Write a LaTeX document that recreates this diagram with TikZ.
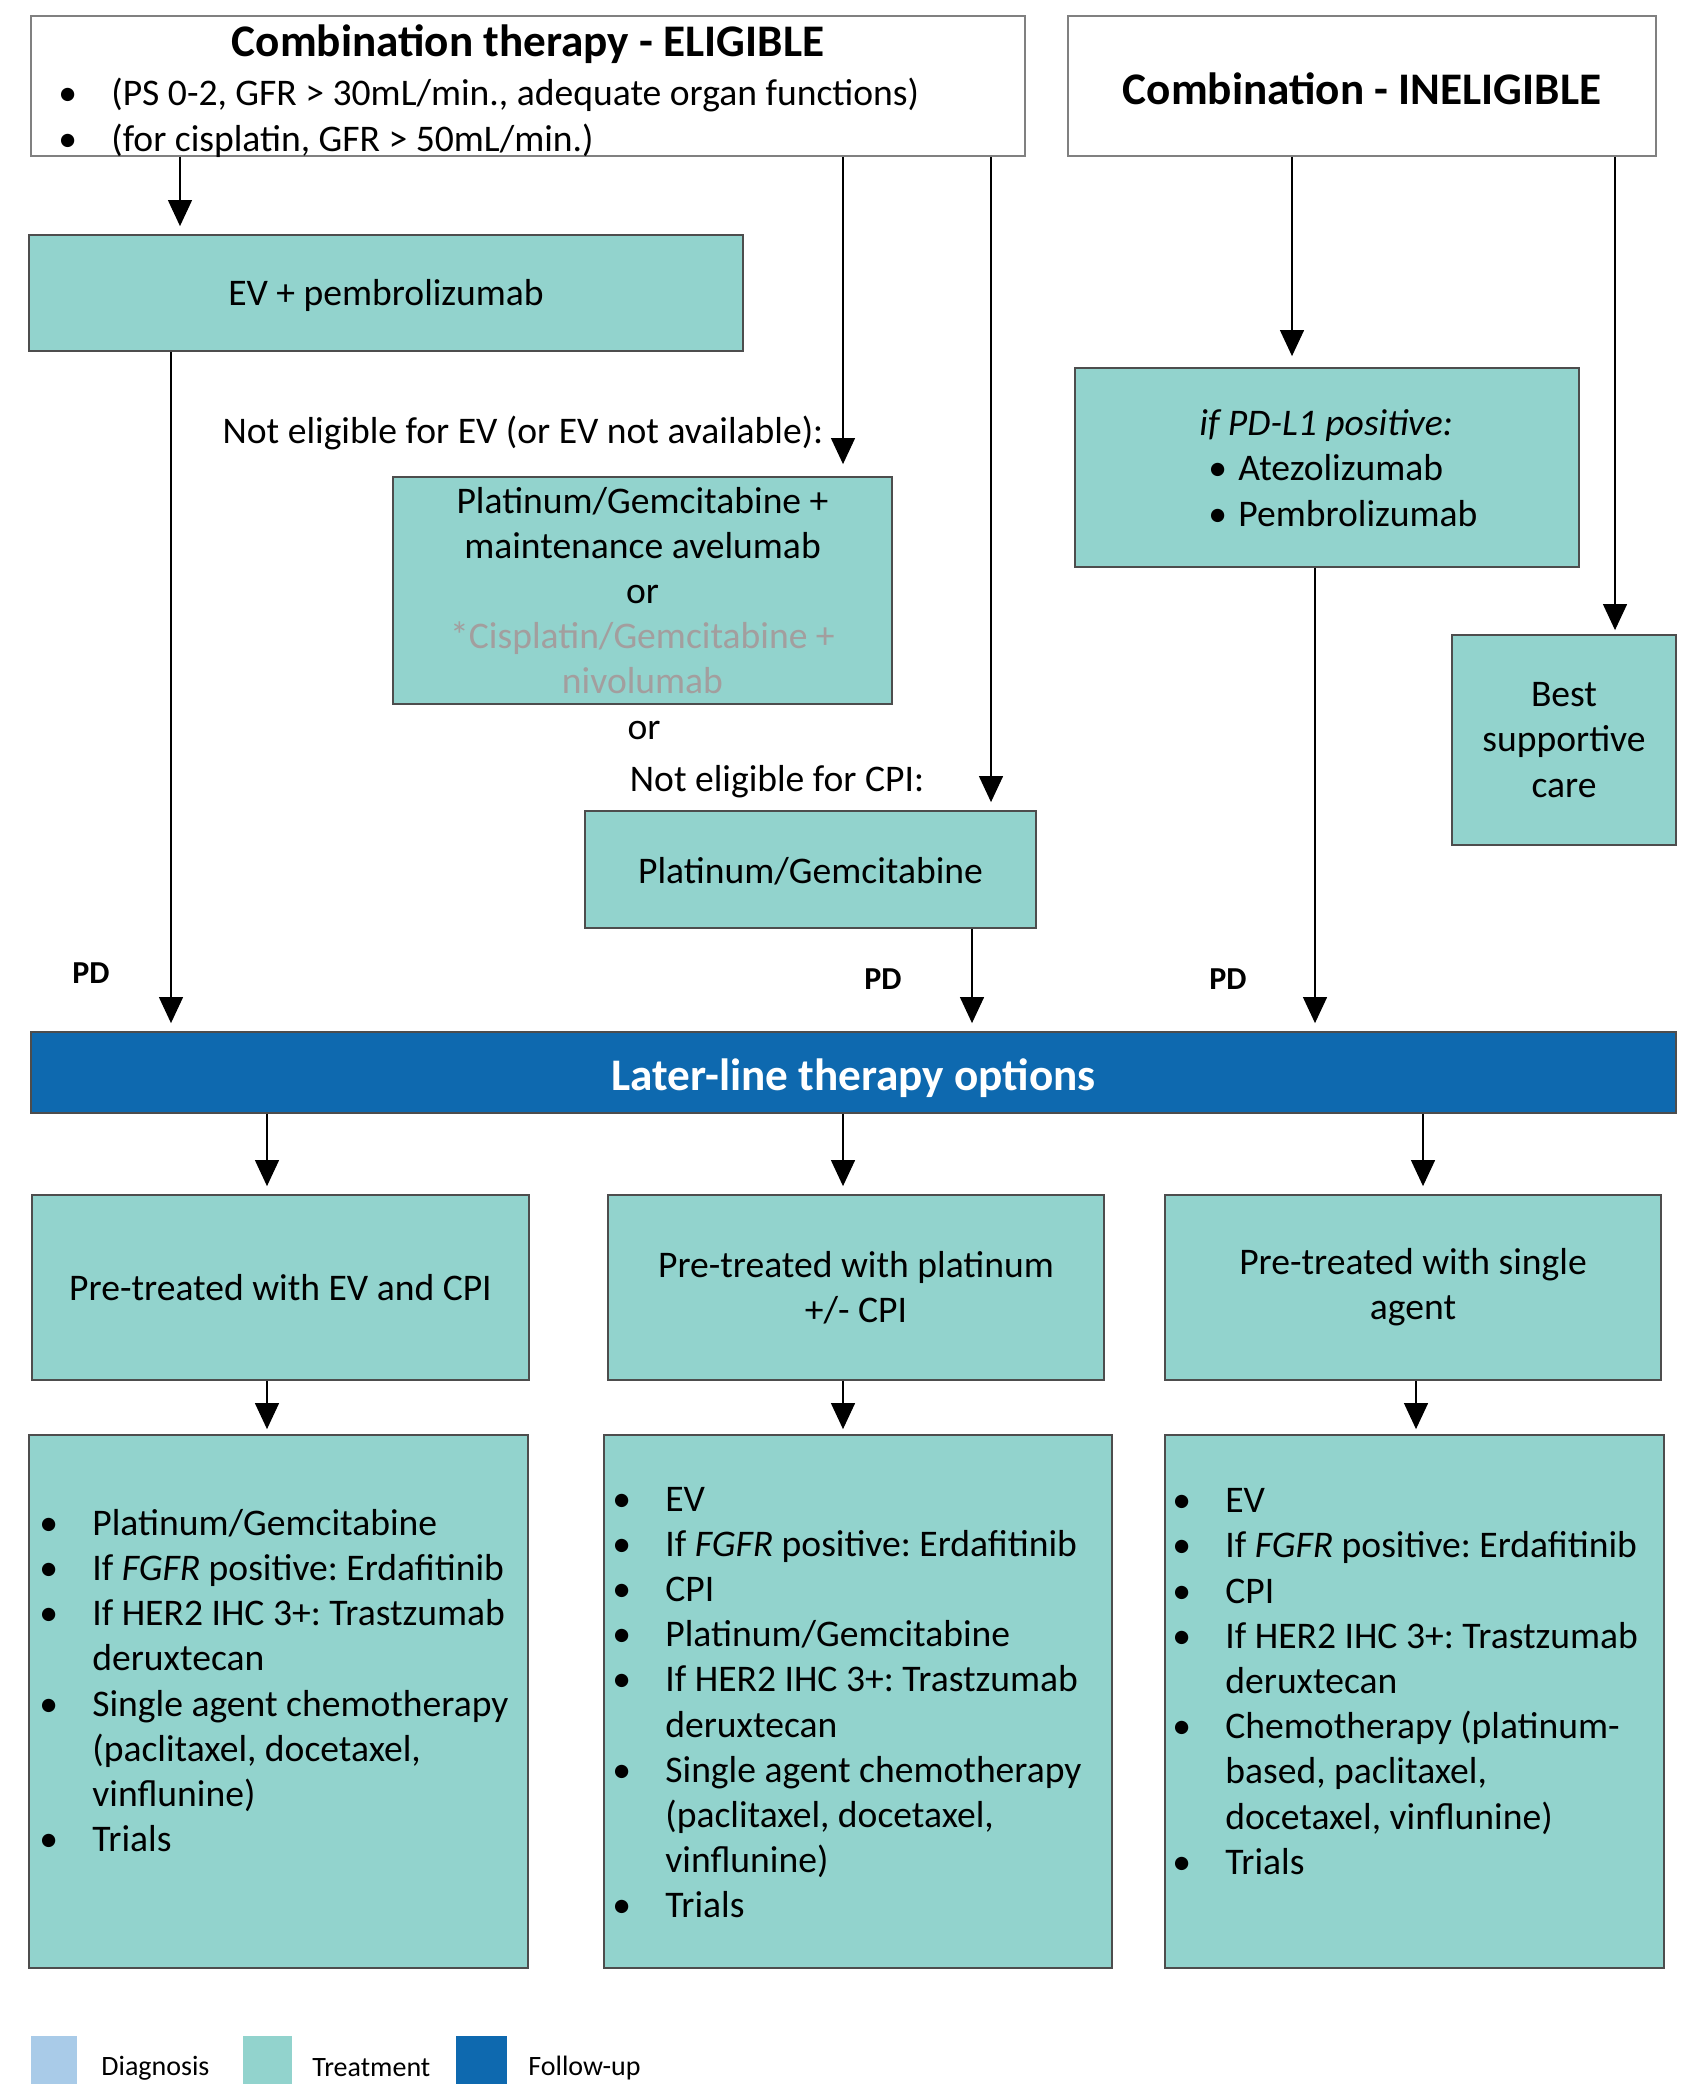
\documentclass[tikz,border=0pt]{standalone}
\usepackage{fontspec}
\setmainfont{Carlito}
\usetikzlibrary{arrows.meta,fit}
\definecolor{teal1}{HTML}{92D3CD}
\definecolor{fblue}{HTML}{0E69AF}
\definecolor{lblue}{HTML}{A9CBE8}
\definecolor{cgray}{HTML}{A39E9E}
\definecolor{bdr}{HTML}{4D4D4D}
\definecolor{wbdr}{HTML}{808080}
\frenchspacing
\newcommand\bitem[1]{\par\noindent\hangindent=26.5pt\hangafter=1\makebox[26.5pt][l]{\textbullet}#1}
\newcommand\bodyfont{\fontsize{18.8pt}{22.6pt}\selectfont}
\begin{document}
\begin{tikzpicture}[x=0.5pt,y=-0.5pt,
  tbox/.style={draw=bdr, line width=0.9pt, fill=teal1, inner sep=0pt},
  wbox/.style={draw=wbdr, line width=0.9pt, fill=white, inner sep=0pt},
  conn/.style={line width=0.6pt, -{Triangle[length=13pt,width=12pt]}, shorten >=4pt},
  plain/.style={inner sep=0pt, align=center, font=\bodyfont},
  lst/.style={inner sep=0pt, text width=300pt, align=flush left, anchor=west, font=\bodyfont},
  pd/.style={font=\fontsize{16pt}{19pt}\selectfont\bfseries, inner sep=0pt},
  ttl/.style={font=\fontsize{22.6pt}{27pt}\selectfont\bfseries, inner sep=0pt},
  leg/.style={font=\fontsize{14pt}{17pt}\selectfont, inner sep=0pt, anchor=west}
]
\fill[white] (0,0) rectangle (1704,2091);
\useasboundingbox (0,0) rectangle (1704,2091);

% top boxes
\node[wbox, fit={(31,16)(1025,156)}] (elig) {};
\node[ttl] (eligT) at (528,44) {Combination therapy - ELIGIBLE};
\node[lst, text width=480pt] (eligL) at (58,109) {\bitem{(PS 0-2, GFR > 30mL/min., adequate organ functions)}\bitem{(for cisplatin, GFR > 50mL/min.)}};
\node[wbox, fit={(1068,16)(1656,156)}] (inelig) {};
\node[ttl] (ineligT) at ([yshift=-1.5pt]inelig.center) {Combination - INELIGIBLE};

% eligible branch
\node[tbox, fit={(29,235)(743,351)}] (ev) {};
\node[plain] (evT) at ([yshift=-1pt]ev.center) {EV + pembrolizumab};
\node[plain] (ne1) at (523,433) {Not eligible for EV (or EV not available):};
\node[tbox, fit={(393,477)(892,704)}] (pgA) {};
\node[plain] (pgAT) at (pgA.center) {Platinum/Gemcitabine +\\maintenance avelumab\\or\\\textcolor{cgray}{*Cisplatin/Gemcitabine +}\\\textcolor{cgray}{nivolumab}};
\node[plain] (or1) at (644,730) {or};
\node[plain] (ne2) at (777,782) {Not eligible for CPI:};
\node[tbox, fit={(585,811)(1036,928)}] (pgB) {};
\node[plain] (pgBT) at ([yshift=-1pt]pgB.center) {Platinum/Gemcitabine};

% ineligible branch
\node[tbox, fit={(1075,368)(1579,567)}] (pdl1) {};
\node[plain, align=left, anchor=west] (pdl1T) at (1199,468) {\textit{if PD-L1 positive:}\\\hspace*{4.5pt}\makebox[15pt][l]{\textbullet}Atezolizumab\\\hspace*{4.5pt}\makebox[15pt][l]{\textbullet}Pembrolizumab};
\node[tbox, fit={(1452,635)(1676,845)}] (bsc) {};
\node[plain] (bscT) at (bsc.center) {Best\\supportive\\care};

% PD labels
\node[pd] (pd1) at (91,973) {PD};
\node[pd] (pd2) at (883,979) {PD};
\node[pd] (pd3) at (1228,979) {PD};

% later line
\node[fit={(31,1032)(1676,1113)}, fill=fblue, draw=bdr, line width=0.9pt, inner sep=0pt] (later) {};
\node[ttl, text=white] (laterT) at ([yshift=-3pt]later.center) {Later-line therapy options};

% middle row
\node[tbox, fit={(32,1195)(529,1380)}] (m1) {};
\node[plain] (m1T) at (m1.center) {Pre-treated with EV and CPI};
\node[tbox, fit={(608,1195)(1104,1380)}] (m2) {};
\node[plain] (m2T) at (m2.center) {Pre-treated with platinum\\+/- CPI};
\node[tbox, fit={(1165,1195)(1661,1380)}] (m3) {};
\node[plain] (m3T) at (m3.center) {Pre-treated with single\\agent};

% bottom row
\node[tbox, fit={(29,1435)(528,1968)}] (b1) {};
\node[tbox, fit={(604,1435)(1112,1968)}] (b2) {};
\node[tbox, fit={(1165,1435)(1664,1968)}] (b3) {};
\node[lst] (l1) at (39,1671) {\bitem{Platinum/Gemcitabine}\bitem{If \textit{FGFR} positive: Erdafitinib}\bitem{If HER2 IHC 3+: Trastzumab\newline deruxtecan}\bitem{Single agent chemotherapy\newline (paclitaxel, docetaxel,\newline vinflunine)}\bitem{Trials}};
\node[lst] (l2) at (612,1692) {\bitem{EV}\bitem{If \textit{FGFR} positive: Erdafitinib}\bitem{CPI}\bitem{Platinum/Gemcitabine}\bitem{If HER2 IHC 3+: Trastzumab\newline deruxtecan}\bitem{Single agent chemotherapy\newline (paclitaxel, docetaxel,\newline vinflunine)}\bitem{Trials}};
\node[lst] (l3) at (1172,1671) {\bitem{EV}\bitem{If \textit{FGFR} positive: Erdafitinib}\bitem{CPI}\bitem{If HER2 IHC 3+: Trastzumab\newline deruxtecan}\bitem{Chemotherapy (platinum-\newline based, paclitaxel,\newline docetaxel, vinflunine)}\bitem{Trials}};

% legend
\node[fill=lblue, fit={(31,2036)(77,2084)}, inner sep=0pt] (lg1) {};
\node[leg] (lt1) at (101,2068) {Diagnosis};
\node[fill=teal1, fit={(243,2036)(292,2084)}, inner sep=0pt] (lg2) {};
\node[leg] (lt2) at (312,2068) {Treatment};
\node[fill=fblue, fit={(456,2036)(507,2084)}, inner sep=0pt] (lg3) {};
\node[leg] (lt3) at (528,2068) {Follow-up};

% x positions of connectors
\coordinate (cA) at (180,0);
\coordinate (cB) at (843,0);
\coordinate (cC) at (991,0);
\coordinate (cD) at (171,0);
\coordinate (cE) at (972,0);
\coordinate (cF) at (1292,0);
\coordinate (cG) at (1315,0);
\coordinate (cH) at (1615,0);
\coordinate (cI) at (267,0);
\coordinate (cJ) at (843,0);
\coordinate (cK) at (1423,0);
\coordinate (cL) at (1416,0);

\draw[conn] (elig.south -| cA) -- (ev.north -| cA);
\draw[conn, shorten >=6pt] (elig.south -| cB) -- (pgA.north -| cB);
\draw[conn] (elig.south -| cC) -- (pgB.north -| cC);
\draw[conn] (ev.south -| cD) -- (later.north -| cD);
\draw[conn] (pgB.south -| cE) -- (later.north -| cE);
\draw[conn, shorten >=5.5pt] (inelig.south -| cF) -- (pdl1.north -| cF);
\draw[conn] (pdl1.south -| cG) -- (later.north -| cG);
\draw[conn, shorten >=2pt] (inelig.south -| cH) -- (bsc.north -| cH);
\draw[conn] (later.south -| cI) -- (m1.north -| cI);
\draw[conn] (later.south -| cJ) -- (m2.north -| cJ);
\draw[conn] (later.south -| cK) -- (m3.north -| cK);
\draw[conn, shorten >=2.5pt] (m1.south -| cI) -- (b1.north -| cI);
\draw[conn, shorten >=2.5pt] (m2.south -| cJ) -- (b2.north -| cJ);
\draw[conn, shorten >=2.5pt] (m3.south -| cL) -- (b3.north -| cL);
\end{tikzpicture}
\end{document}
